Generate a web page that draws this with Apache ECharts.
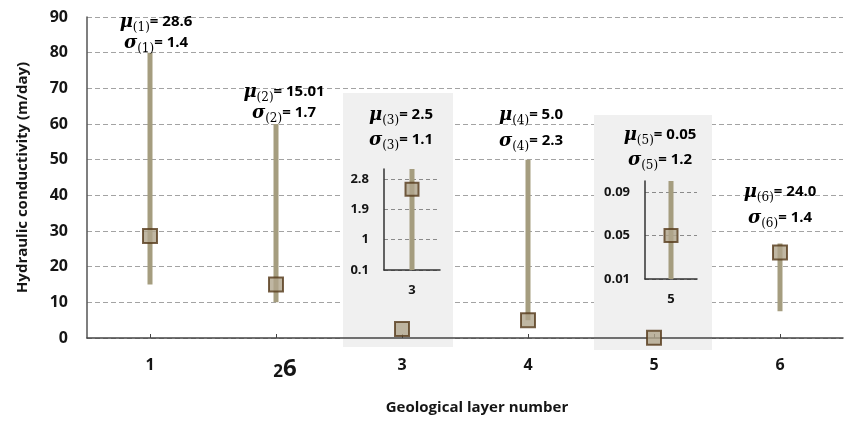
<!DOCTYPE html>
<html>
<head>
<meta charset="utf-8">
<script src="https://cdn.jsdelivr.net/npm/echarts@6/dist/echarts.min.js"></script>
<style>
  html, body { margin: 0; padding: 0; background: #ffffff; }
  #chart { width: 847px; height: 421px; }
</style>
</head>
<body>
<div id="chart"></div>
<script>
// Geological layers and their hydraulic conductivity statistics (m/day)
const layers = ['1', '2', '3', '4', '5', '6'];
const muText = ['28.6', '15.01', '2.5', '5.0', '0.05', '24.0'];
const sigmaText = ['1.4', '1.7', '1.1', '2.3', '1.2', '1.4'];
// Vertical range bars in the main plot ('-' = shown in a zoomed panel instead)
const rangeLow = [15, 10, '-', 5, '-', 7.5];
const rangeHigh = [80, 60, '-', 50, '-', 26.5];

// Zoomed panels for layers 3 and 5
const zoom3Ticks = [0.1, 1, 1.9, 2.8];
const zoom3Range = [0.1, 3.1];
const zoom5Ticks = [0.01, 0.05, 0.09];
const zoom5Range = [0.01, 0.1];

const FONT = '"Open Sans", Lato, sans-serif';
const INK = '#151515';
const BAR_COLOR = '#a59d7f';
const MARK_FILL = '#b0a58c';
const MARK_BORDER = '#553a1a';
const GRID_DASH = [5, 3];

const meanVals = muText.map(parseFloat);
const rangeSpan = rangeHigh.map((h, i) => (h === '-' ? '-' : h - rangeLow[i]));

// Annotation anchors: [centre x, mu line y, sigma line y]
const notePos = [
  [156, 22, 43],
  [284, 92, 113],
  [401, 115, 140],
  [531, 115, 141],
  [660, 135, 160],
  [780, 192, 218]
];

const richNote = {
  m: { fontFamily: '"DejaVu Serif", serif', fontStyle: 'italic', fontWeight: 'bold', fontSize: 18, color: '#1d1a14' },
  s: { fontFamily: '"DejaVu Serif", serif', fontSize: 12, color: '#34507d', padding: [12, 0, 0, 0] },
  v: { fontFamily: FONT, fontWeight: 'bold', fontSize: 15, color: INK }
};

const notes = [];
layers.forEach((k, i) => {
  const [cx, yMu, ySig] = notePos[i];
  notes.push({
    type: 'text', x: cx, y: yMu, z: 5,
    style: { text: '{m|μ}{s|(' + k + ')}{v|= ' + muText[i] + '}', rich: richNote, align: 'center', verticalAlign: 'middle' }
  });
  notes.push({
    type: 'text', x: cx, y: ySig, z: 5,
    style: { text: '{m|σ}{s|(' + k + ')}{v|= ' + sigmaText[i] + '}', rich: richNote, align: 'center', verticalAlign: 'middle' }
  });
});

// Light backing panels behind the zoomed views
const panels = [
  { type: 'rect', z: 1, shape: { x: 343, y: 93, width: 110, height: 254 }, style: { fill: '#f0f0f0' } },
  { type: 'rect', z: 1, shape: { x: 594, y: 115, width: 118, height: 235 }, style: { fill: '#f0f0f0' } }
];

const markerStyle = { color: MARK_FILL, borderColor: MARK_BORDER, borderWidth: 2 };

function zoomAxes(idx, cat, range, ticks) {
  return {
    x: {
      type: 'category', gridIndex: idx, data: [cat], z: 3,
      axisLine: { show: true, lineStyle: { color: '#333', width: 1.5 } },
      axisTick: { show: false },
      axisLabel: { fontFamily: FONT, fontWeight: 'bold', fontSize: 13, color: INK, margin: 14 },
      splitLine: { show: false }
    },
    y: {
      type: 'value', gridIndex: idx, min: range[0], max: range[1], z: 3,
      axisLine: { show: true, lineStyle: { color: '#333', width: 1.5 } },
      axisTick: { show: false, customValues: ticks },
      axisLabel: { customValues: ticks, fontFamily: FONT, fontWeight: 'bold', fontSize: 13, color: INK, margin: 15 },
      splitLine: { show: true, lineStyle: { color: '#8a8a8a', type: [4, 3], width: 1 } }
    }
  };
}
const z3 = zoomAxes(1, layers[2], zoom3Range, zoom3Ticks);
const z5 = zoomAxes(2, layers[4], zoom5Range, zoom5Ticks);

const option = {
  animation: false,
  backgroundColor: '#ffffff',
  grid: [
    { left: 87, right: 4, top: 17, bottom: 83, outerBoundsMode: 'none' },
    { left: 384, top: 169, width: 56, height: 101, outerBoundsMode: 'none' },
    { left: 645, top: 181, width: 52, height: 98, outerBoundsMode: 'none' }
  ],
  xAxis: [
    {
      type: 'category', gridIndex: 0, data: layers, z: 3,
      name: 'Geological layer number', nameLocation: 'middle', nameGap: 62,
      nameTextStyle: { fontFamily: FONT, fontWeight: 'bold', fontSize: 15, color: INK, padding: [0, 0, 0, 24] },
      axisLine: { show: true, lineStyle: { color: '#444', width: 1.5 } },
      axisTick: { show: true, alignWithLabel: true, inside: true, length: 4, interval: 0, lineStyle: { color: '#444' } },
      axisLabel: {
        interval: 0, hideOverlap: false,
        fontFamily: FONT, fontWeight: 'bold', fontSize: 16, color: INK, margin: 19,
        formatter: v => (v === '2' ? '{p|}{n|2}{b|6}' : v),
        rich: {
          p: { width: 18 },
          n: { fontFamily: FONT, fontWeight: 'bold', fontSize: 17, color: INK, verticalAlign: 'bottom' },
          b: { fontFamily: FONT, fontWeight: 'bold', fontSize: 24, color: INK, verticalAlign: 'bottom' }
        }
      }
    },
    z3.x, z5.x
  ],
  yAxis: [
    {
      type: 'value', gridIndex: 0, min: 0, max: 90, interval: 10, z: 0,
      name: 'Hydraulic conductivity (m/day)', nameLocation: 'middle', nameGap: 57,
      nameTextStyle: { fontFamily: FONT, fontWeight: 'bold', fontSize: 15, color: INK },
      axisLine: { show: true, lineStyle: { color: '#555', width: 1.5 } },
      axisTick: { show: false },
      axisLabel: { fontFamily: FONT, fontWeight: 'bold', fontSize: 16, color: INK, margin: 19 },
      splitLine: { show: true, lineStyle: { color: '#a3a3a3', type: GRID_DASH, width: 1 } }
    },
    z3.y, z5.y
  ],
  series: [
    { type: 'bar', xAxisIndex: 0, yAxisIndex: 0, stack: 'range', barWidth: 5, data: rangeLow,
      itemStyle: { color: 'transparent' }, silent: true },
    { type: 'bar', xAxisIndex: 0, yAxisIndex: 0, stack: 'range', barWidth: 5, data: rangeSpan,
      itemStyle: { color: BAR_COLOR } },
    { type: 'scatter', xAxisIndex: 0, yAxisIndex: 0, z: 4, symbol: 'rect', symbolSize: 14,
      data: meanVals, itemStyle: markerStyle },

    { type: 'bar', xAxisIndex: 1, yAxisIndex: 1, stack: 'z3', barWidth: 5, data: [zoom3Range[0]],
      itemStyle: { color: 'transparent' }, silent: true },
    { type: 'bar', xAxisIndex: 1, yAxisIndex: 1, stack: 'z3', barWidth: 5, data: [zoom3Range[1] - zoom3Range[0]],
      itemStyle: { color: BAR_COLOR }, z: 4 },
    { type: 'scatter', xAxisIndex: 1, yAxisIndex: 1, z: 5, symbol: 'rect', symbolSize: 13,
      data: [meanVals[2]], itemStyle: markerStyle },

    { type: 'bar', xAxisIndex: 2, yAxisIndex: 2, stack: 'z5', barWidth: 5, data: [zoom5Range[0]],
      itemStyle: { color: 'transparent' }, silent: true },
    { type: 'bar', xAxisIndex: 2, yAxisIndex: 2, stack: 'z5', barWidth: 5, data: [zoom5Range[1] - zoom5Range[0]],
      itemStyle: { color: BAR_COLOR }, z: 4 },
    { type: 'scatter', xAxisIndex: 2, yAxisIndex: 2, z: 5, symbol: 'rect', symbolSize: 13,
      data: [meanVals[4]], itemStyle: markerStyle }
  ],
  graphic: panels.concat(notes)
};

const chart = echarts.init(document.getElementById('chart'), null, { renderer: 'canvas' });
chart.setOption(option);
</script>
</body>
</html>
